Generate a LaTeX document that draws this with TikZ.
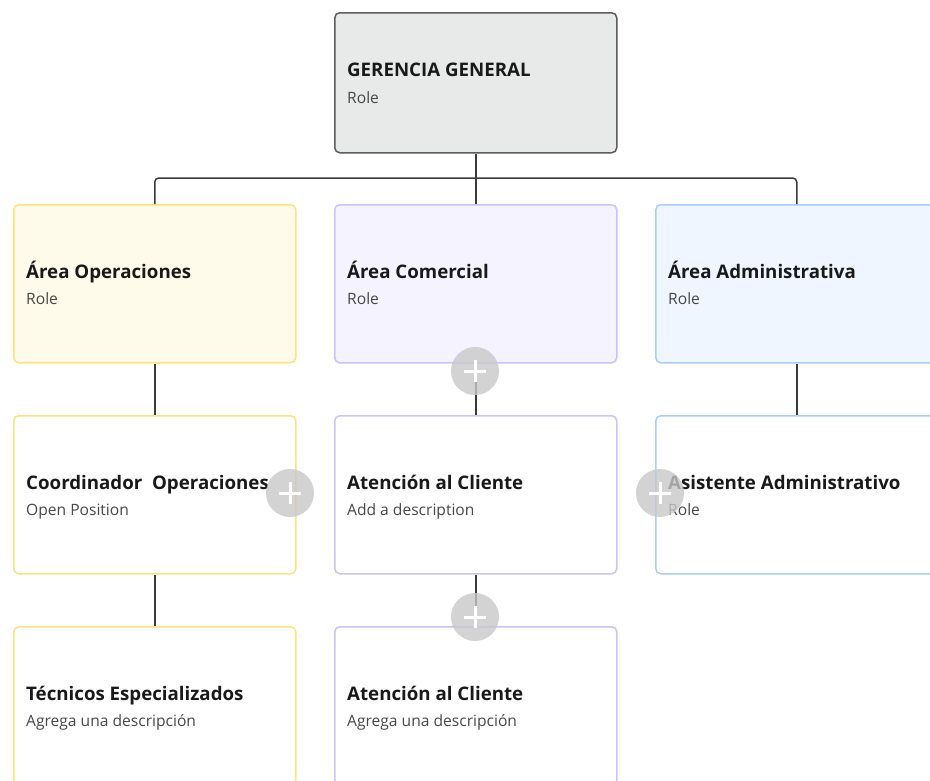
\documentclass[tikz,border=0pt]{standalone}
\usepackage{fontspec}
\setmainfont{Open Sans}
\usepackage{xcolor}
\usepackage{tikz}
\usetikzlibrary{positioning}

\definecolor{linegray}{HTML}{3A3A3A}
\definecolor{topborder}{HTML}{5C5C5C}
\definecolor{topfill}{HTML}{E8E9E9}
\definecolor{opsborder}{HTML}{FFE27A}
\definecolor{opsfill}{HTML}{FFFBEB}
\definecolor{comborder}{HTML}{C9C3FF}
\definecolor{comfill}{HTML}{F5F3FF}
\definecolor{admborder}{HTML}{A9CCFF}
\definecolor{admfill}{HTML}{F0F6FF}
\definecolor{plusgray}{HTML}{C8C8C8}

\tikzset{
  card/.style={draw, rounded corners=5pt, line width=1.5pt, anchor=north west,
    minimum width=282pt, minimum height=158pt, inner sep=0pt},
  title/.style={anchor=base west, font=\fontsize{18.7}{20}\selectfont\bfseries,
    text=black!90, inner sep=0pt, xshift=13pt, yshift=5pt},
  subtitle/.style={anchor=base west, font=\fontsize{15.6}{17}\selectfont,
    text=black!72, inner sep=0pt, xshift=13pt, yshift=-21pt},
  conn/.style={draw=linegray, line width=1.5pt},
  addbtn/.style={circle, fill=plusgray, fill opacity=0.8, minimum size=48pt, inner sep=0pt,
    path picture={
      \draw[white, line width=3pt, opacity=1]
        ([xshift=-11pt]path picture bounding box.center) -- ([xshift=11pt]path picture bounding box.center)
        ([yshift=-11pt]path picture bounding box.center) -- ([yshift=11pt]path picture bounding box.center);
    }},
}

\begin{document}
\begin{tikzpicture}[x=1pt,y=-1pt]
\clip (0,0) rectangle (930,780);
\fill[white] (0,0) rectangle (930,780);

% top
\node[card, draw=topborder, fill=topfill, minimum height=140pt] (gerencia) at (334,12) {};
\node[title, yshift=1pt] at (gerencia.west) {GERENCIA GENERAL};
\node[subtitle] at (gerencia.west) {Role};

% areas
\node[card, draw=opsborder, fill=opsfill] (operaciones) at (13,204) {};
\node[card, draw=comborder, fill=comfill] (comercial) at (334,204) {};
\node[card, draw=admborder, fill=admfill] (administrativa) at (655,204) {};
\node[title] at (operaciones.west) {Área Operaciones};
\node[subtitle] at (operaciones.west) {Role};
\node[title] at (comercial.west) {Área Comercial};
\node[subtitle] at (comercial.west) {Role};
\node[title] at (administrativa.west) {Área Administrativa};
\node[subtitle] at (administrativa.west) {Role};

% second row
\node[card, draw=opsborder, fill=white] (coordinador) at (13,415) {};
\node[card, draw=comborder, fill=white] (atencion) at (334,415) {};
\node[card, draw=admborder, fill=white] (asistente) at (655,415) {};
\node[title] at (coordinador.west) {Coordinador~~Operaciones};
\node[subtitle] at (coordinador.west) {Open Position};
\node[title] at (atencion.west) {Atención al Cliente};
\node[subtitle] at (atencion.west) {Add a description};
\node[title] at (asistente.west) {Asistente Administrativo};
\node[subtitle] at (asistente.west) {Role};

% third row
\node[card, draw=opsborder, fill=white] (tecnicos) at (13,626) {};
\node[card, draw=comborder, fill=white] (atencionb) at (334,626) {};
\node[title] at (tecnicos.west) {Técnicos Especializados};
\node[subtitle] at (tecnicos.west) {Agrega una descripción};
\node[title] at (atencionb.west) {Atención al Cliente};
\node[subtitle] at (atencionb.west) {Agrega una descripción};

% connectors
\coordinate (bus) at (475,178);
\draw[conn] (gerencia.south) -- (comercial.north);
\draw[conn, rounded corners=4pt] (operaciones.north) |- (bus) -| (administrativa.north);
\draw[conn] (operaciones.south) -- (coordinador.north);
\draw[conn] (comercial.south) -- (atencion.north);
\draw[conn] (administrativa.south) -- (asistente.north);
\draw[conn] (coordinador.south) -- (tecnicos.north);
\draw[conn] (atencion.south) -- (atencionb.north);

% add buttons
\node[addbtn] (addcom) at (475,371) {};
\node[addbtn] (addcoord) at (290,493) {};
\node[addbtn] (addasis) at (660,493) {};
\node[addbtn] (addaten) at (475,617) {};
\end{tikzpicture}
\end{document}
